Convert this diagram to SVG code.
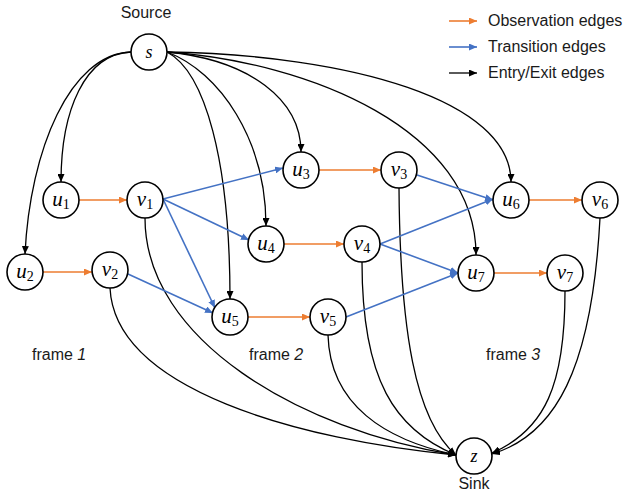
<svg xmlns="http://www.w3.org/2000/svg" width="629" height="495" viewBox="0 0 629 495">
<style>
.node circle{fill:#fff;stroke:#000;stroke-width:1.6}
.lbl{font-family:"Liberation Serif",serif;font-style:italic;font-size:21px;text-anchor:middle}
.sub{font-style:normal;font-size:14px}
.txt{font-family:"Liberation Sans",Arial,sans-serif;font-size:16px;fill:#1a1a1a}
.k{fill:none;stroke:#000;stroke-width:1.3;marker-end:url(#ak)}
.o{fill:none;stroke:#ED7D31;stroke-width:1.6;marker-end:url(#ao)}
.b{fill:none;stroke:#4472C4;stroke-width:1.6;marker-end:url(#ab)}
</style>
<defs>
<marker id="ak" markerUnits="userSpaceOnUse" markerWidth="9" markerHeight="7" refX="8" refY="3.5" orient="auto"><path d="M0,0 L8,3.5 L0,7 z" fill="#000"/></marker>
<marker id="ao" markerUnits="userSpaceOnUse" markerWidth="9" markerHeight="7" refX="8" refY="3.5" orient="auto"><path d="M0,0 L8,3.5 L0,7 z" fill="#ED7D31"/></marker>
<marker id="ab" markerUnits="userSpaceOnUse" markerWidth="9" markerHeight="7" refX="8" refY="3.5" orient="auto"><path d="M0,0 L8,3.5 L0,7 z" fill="#4472C4"/></marker>
</defs>

<g id="connectors">
<!-- entry edges -->
<path class="k" d="M131,52 C85,54 61,110 61,182"/>
<path class="k" d="M131,52 C70,54 30,150 25,254"/>
<path class="k" d="M167,52 C250,60 301,100 301,152"/>
<path class="k" d="M167,52 C220,72 266,140 266,226"/>
<path class="k" d="M167,52 C205,72 230,160 230,299"/>
<path class="k" d="M167,52 C350,55 511,100 511,182"/>
<path class="k" d="M167,52 C310,62 476,130 476,255"/>
<!-- exit edges -->
<path class="k" d="M145,218 C145,340 300,430 456,455"/>
<path class="k" d="M110,288 C115,390 300,440 456,455"/>
<path class="k" d="M399,188 C400,330 415,420 456,455"/>
<path class="k" d="M362,262 C362,380 395,430 456,455"/>
<path class="k" d="M328,335 C330,405 385,440 456,455"/>
<path class="k" d="M600,218 C592,370 555,435 492,454"/>
<path class="k" d="M565,291 C565,385 545,430 492,453"/>
<!-- observation edges -->
<path class="o" d="M79,200 L127,200"/>
<path class="o" d="M43,272 L92,272"/>
<path class="o" d="M319,170 L381,170"/>
<path class="o" d="M284,244 L344,244"/>
<path class="o" d="M248,317 L310,317"/>
<path class="o" d="M529,200 L582,200"/>
<path class="o" d="M494,273 L547,273"/>
<!-- transition edges -->
<path class="b" d="M163,199 L283,168"/>
<path class="b" d="M163,199 L249,240"/>
<path class="b" d="M163,199 L215,308"/>
<path class="b" d="M128,274 L213,313"/>
<path class="b" d="M417,175 L493,200"/>
<path class="b" d="M380,244 L493,199"/>
<path class="b" d="M380,244 L458,273"/>
<path class="b" d="M346,317 L458,273"/>
</g>

<g id="node-s" class="node"><circle cx="149" cy="52" r="18"/><text class="lbl" x="149" y="58" style="font-size:18px">s</text></g>
<g id="node-u1" class="node"><circle cx="61" cy="200" r="18"/><text class="lbl" x="61" y="206">u<tspan class="sub" dy="3">1</tspan></text></g>
<g id="node-v1" class="node"><circle cx="145" cy="200" r="18"/><text class="lbl" x="145" y="206">v<tspan class="sub" dy="3">1</tspan></text></g>
<g id="node-u2" class="node"><circle cx="25" cy="272" r="18"/><text class="lbl" x="25" y="278">u<tspan class="sub" dy="3">2</tspan></text></g>
<g id="node-v2" class="node"><circle cx="110" cy="270" r="18"/><text class="lbl" x="110" y="276">v<tspan class="sub" dy="3">2</tspan></text></g>
<g id="node-u3" class="node"><circle cx="301" cy="170" r="18"/><text class="lbl" x="301" y="176">u<tspan class="sub" dy="3">3</tspan></text></g>
<g id="node-v3" class="node"><circle cx="399" cy="170" r="18"/><text class="lbl" x="399" y="176">v<tspan class="sub" dy="3">3</tspan></text></g>
<g id="node-u4" class="node"><circle cx="266" cy="244" r="18"/><text class="lbl" x="266" y="250">u<tspan class="sub" dy="3">4</tspan></text></g>
<g id="node-v4" class="node"><circle cx="362" cy="244" r="18"/><text class="lbl" x="362" y="250">v<tspan class="sub" dy="3">4</tspan></text></g>
<g id="node-u5" class="node"><circle cx="230" cy="317" r="18"/><text class="lbl" x="230" y="323">u<tspan class="sub" dy="3">5</tspan></text></g>
<g id="node-v5" class="node"><circle cx="328" cy="317" r="18"/><text class="lbl" x="328" y="323">v<tspan class="sub" dy="3">5</tspan></text></g>
<g id="node-u6" class="node"><circle cx="511" cy="200" r="18"/><text class="lbl" x="511" y="206">u<tspan class="sub" dy="3">6</tspan></text></g>
<g id="node-v6" class="node"><circle cx="600" cy="200" r="18"/><text class="lbl" x="600" y="206">v<tspan class="sub" dy="3">6</tspan></text></g>
<g id="node-u7" class="node"><circle cx="476" cy="273" r="18"/><text class="lbl" x="476" y="279">u<tspan class="sub" dy="3">7</tspan></text></g>
<g id="node-v7" class="node"><circle cx="565" cy="273" r="18"/><text class="lbl" x="565" y="279">v<tspan class="sub" dy="3">7</tspan></text></g>
<g id="node-z" class="node"><circle cx="474" cy="456" r="18"/><text class="lbl" x="474" y="462" style="font-size:18px">z</text></g>

<g id="labels">
<text class="txt" x="146" y="18" text-anchor="middle">Source</text>
<text class="txt" x="474" y="489" text-anchor="middle">Sink</text>
<text class="txt" x="32" y="360">frame <tspan font-style="italic">1</tspan></text>
<text class="txt" x="249" y="360">frame <tspan font-style="italic">2</tspan></text>
<text class="txt" x="486" y="360">frame <tspan font-style="italic">3</tspan></text>
</g>

<g id="legend">
<path class="o" d="M449,21 L477,21"/>
<path class="b" d="M449,47 L477,47"/>
<path class="k" d="M449,73 L477,73"/>
<text class="txt" x="488" y="26">Observation edges</text>
<text class="txt" x="488" y="52">Transition edges</text>
<text class="txt" x="488" y="78">Entry/Exit edges</text>
</g>
</svg>
